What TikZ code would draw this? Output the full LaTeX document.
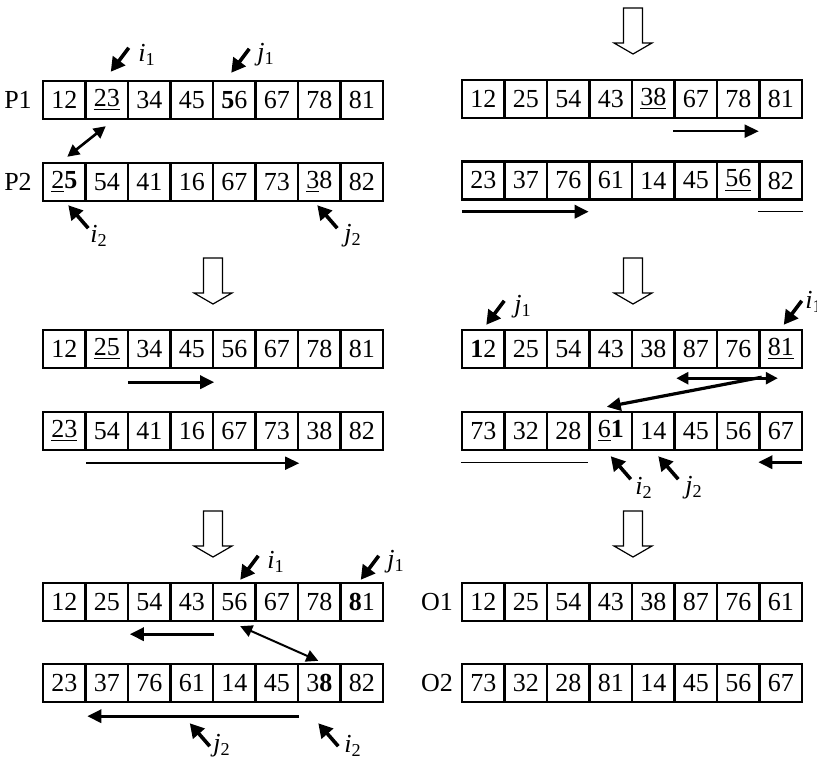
\documentclass[tikz,border=0pt]{standalone}
\usepackage{fontspec}
\setmainfont{Liberation Serif}
\usetikzlibrary{arrows.meta}
\newcommand{\ptrname}[2]{\textit{#1}\textsubscript{#2}}

\begin{document}
\begin{tikzpicture}[
    x=0.5pt, y=-0.5pt,
    every node/.style={font=\fontsize{13}{15}\selectfont},
    cell/.style={
        rectangle,
        draw,
        line width=1.2pt,
        minimum width=21.25pt,
        minimum height=19pt,
        inner sep=0pt
    },
    rowlab/.style={inner sep=0pt},
    ptrlab/.style={inner sep=0pt},
    ptrarrow/.style={
        -{Triangle[length=7pt,width=7.5pt]},
        line width=1.8pt
    },
    thinarrow/.style={
        -{Triangle[length=7pt,width=6.5pt]},
        line width=0.8pt
    },
    thickarrow/.style={
        -{Triangle[length=7pt,width=6.5pt]},
        line width=1.6pt
    },
    swaparrow/.style={
        {Triangle[length=6pt,width=6pt]}-{Triangle[length=6pt,width=6pt]},
        line width=1.3pt
    },
    segline/.style={line width=0.6pt},
    hollow/.style={draw, line width=0.6pt, fill=white}
]
\useasboundingbox (0,0) rectangle (817,759);

% Panel 1 - parents
\node[rowlab] (p1) at (18,100) {P1};
\node[rowlab] (p2) at (18,182) {P2};
\foreach \v [count=\k] in {12,\underline{23},34,45,\textbf{5}6,67,78,81}
    \node[cell] (r1a-\k) at ({43+42.5*(\k-0.5)},100) {\v};
\foreach \v [count=\k] in {\underline{2}\textbf{5},54,41,16,67,73,\underline{3}8,82}
    \node[cell] (r1b-\k) at ({43+42.5*(\k-0.5)},182) {\v};

\draw[ptrarrow] ([shift={(22,-32)}]r1a-2.north) -- ++(-18,24);
\draw[ptrarrow] ([shift={(15,-31)}]r1a-5.north) -- ++(-18,24);
\draw[ptrarrow] ([shift={(24,26)}]r1b-1.south) -- ++(-20,-23);
\draw[ptrarrow] ([shift={(18,26)}]r1b-7.south) -- ++(-20,-23);
\node[ptrlab] (i1a) at (147,55) {\ptrname{i}{1}};
\node[ptrlab] (j1a) at (266,55) {\ptrname{j}{1}};
\node[ptrlab] (i2a) at (99,236) {\ptrname{i}{2}};
\node[ptrlab] (j2a) at (353,236) {\ptrname{j}{2}};
\draw[swaparrow] ([shift={(-1,6)}]r1a-2.south) -- ([shift={(3,-5)}]r1b-1.north);

% Panel 2
\foreach \v [count=\k] in {12,25,54,43,\underline{38},67,78,81}
    \node[cell] (r2a-\k) at ({462+42.5*(\k-0.5)},99) {\v};
\foreach \v [count=\k] in {23,37,76,61,14,45,\underline{56},82}
    \node[cell] (r2b-\k) at ({462+42.5*(\k-0.5)},180.5) {\v};

\draw[thinarrow] ([shift={(0,12)}]r2a-6.south west) -- ([shift={(-2,12)}]r2a-7.south east);
\draw[thickarrow] ([shift={(1,11)}]r2b-1.south west) -- ([shift={(-2,11)}]r2b-3.south east);
\draw[segline] ([shift={(0,11)}]r2b-8.south west) -- ([shift={(0,11)}]r2b-8.south east);

% Panel 3
\foreach \v [count=\k] in {12,\underline{25},34,45,56,67,78,81}
    \node[cell] (r3a-\k) at ({43+42.5*(\k-0.5)},349) {\v};
\foreach \v [count=\k] in {\underline{23},54,41,16,67,73,38,82}
    \node[cell] (r3b-\k) at ({43+42.5*(\k-0.5)},431) {\v};

\draw[thickarrow] ([shift={(1,13)}]r3a-3.south west) -- ([shift={(0,13)}]r3a-4.south east);
\draw[thinarrow] ([shift={(2,12)}]r3b-2.south west) -- ([shift={(0,12)}]r3b-6.south east);

% Panel 4
\foreach \v [count=\k] in {\textbf{1}2,25,54,43,38,87,76,\underline{81}}
    \node[cell] (r4a-\k) at ({462+42.5*(\k-0.5)},349) {\v};
\foreach \v [count=\k] in {73,32,28,\underline{6}\textbf{1},14,45,56,67}
    \node[cell] (r4b-\k) at ({462+42.5*(\k-0.5)},431) {\v};

\draw[ptrarrow] ([shift={(21,-28)}]r4a-1.north) -- ++(-18,24);
\draw[ptrarrow] ([shift={(21,-28)}]r4a-8.north) -- ++(-18,24);
\draw[ptrarrow] ([shift={(20,28)}]r4b-4.south) -- ++(-20,-23);
\draw[ptrarrow] ([shift={(25,28)}]r4b-5.south) -- ++(-20,-23);
\node[ptrlab] (j1d) at (523,307) {\ptrname{j}{1}};
\node[ptrlab] (i1d) at (814,302) {\ptrname{i}{1}};
\node[ptrlab] (i2d) at (644,488) {\ptrname{i}{2}};
\node[ptrlab] (j2d) at (694,488) {\ptrname{j}{2}};
\draw[swaparrow] ([shift={(3,9)}]r4a-6.south west) -- ([shift={(-3,9)}]r4a-8.south);
\draw[thickarrow] ([shift={(-19,8)}]r4a-8.south) -- ([shift={(-4,-4)}]r4b-4.north);
\draw[segline] ([shift={(0,11)}]r4b-1.south west) -- ([shift={(-3,11)}]r4b-3.south east);
\draw[thickarrow] ([shift={(-1,11)}]r4b-8.south east) -- ([shift={(0,11)}]r4b-8.south west);

% Panel 5
\foreach \v [count=\k] in {12,25,54,43,56,67,78,\textbf{8}1}
    \node[cell] (r5a-\k) at ({43+42.5*(\k-0.5)},602) {\v};
\foreach \v [count=\k] in {23,37,76,61,14,45,3\textbf{8},82}
    \node[cell] (r5b-\k) at ({43+42.5*(\k-0.5)},683) {\v};

\draw[ptrarrow] ([shift={(24,-26)}]r5a-5.north) -- ++(-18,24);
\draw[ptrarrow] ([shift={(17,-26)}]r5a-8.north) -- ++(-18,24);
\draw[ptrarrow] ([shift={(18,43)}]r5b-4.south) -- ++(-20,-23);
\draw[ptrarrow] ([shift={(19,43)}]r5b-7.south) -- ++(-20,-23);
\node[ptrlab] (i1e) at (276,562) {\ptrname{i}{1}};
\node[ptrlab] (j1e) at (396,562) {\ptrname{j}{1}};
\node[ptrlab] (j2e) at (222,746) {\ptrname{j}{2}};
\node[ptrlab] (i2e) at (353,746) {\ptrname{i}{2}};
\draw[thickarrow] ([shift={(0,12)}]r5a-4.south east) -- ([shift={(3,12)}]r5a-3.south west);
\draw[swaparrow, line width=1pt] ([shift={(6,4)}]r5a-5.south) -- ([shift={(-1,-2)}]r5b-7.north);
\draw[thickarrow] ([shift={(0,13)}]r5b-6.south east) -- ([shift={(3,13)}]r5b-2.south west);

% Panel 6 - offspring
\node[rowlab] (o1) at (437,602) {O1};
\node[rowlab] (o2) at (437,683) {O2};
\foreach \v [count=\k] in {12,25,54,43,38,87,76,61}
    \node[cell] (off1-\k) at ({462+42.5*(\k-0.5)},602) {\v};
\foreach \v [count=\k] in {73,32,28,81,14,45,56,67}
    \node[cell] (off2-\k) at ({462+42.5*(\k-0.5)},683) {\v};

% Step arrows
\foreach \hx/\hy in {633/54,213/304,633/304,213/557,633/557}
    \draw[hollow] (\hx-9.5,\hy-46) -- (\hx+9.5,\hy-46) -- (\hx+9.5,\hy-11)
        -- (\hx+19,\hy-11) -- (\hx,\hy) -- (\hx-19,\hy-11) -- (\hx-9.5,\hy-11) -- cycle;

\end{tikzpicture}
\end{document}
